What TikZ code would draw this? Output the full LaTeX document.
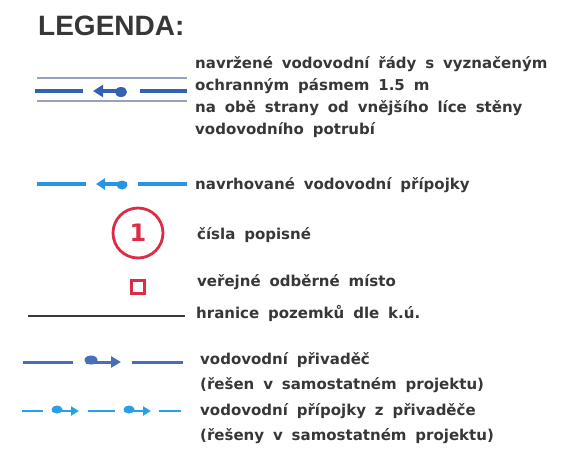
\documentclass[tikz,border=0pt]{standalone}
\usepackage{fontspec}
\setmainfont{DejaVu Sans}[WordSpace=1.7]
\newfontfamily\headfont{Liberation Sans}
\usepackage{xcolor}
\usetikzlibrary{arrows.meta}
\definecolor{textgray}{RGB}{55, 55, 55}
\definecolor{pipeblue}{RGB}{52, 98, 178}
\definecolor{zonegray}{RGB}{150, 162, 186}
\definecolor{connblue}{RGB}{38, 150, 226}
\definecolor{feedblue}{RGB}{72, 110, 182}
\definecolor{feedconn}{RGB}{40, 160, 232}
\definecolor{markred}{RGB}{220, 45, 70}

\begin{document}
\begin{tikzpicture}[x=1pt, y=-1pt, font=\bfseries\fontsize{15}{22}\selectfont, text=textgray,
  label/.style={anchor=west, align=left, inner sep=0pt},
  pipe/.style={line width=4.5pt, color=pipeblue},
  zone/.style={line width=1.6pt, color=zonegray},
  conn/.style={line width=3.8pt, color=connblue},
  feed/.style={line width=3pt, color=feedblue},
  feedpart/.style={line width=2.8pt, color=feedconn}]

  \useasboundingbox (0,0) rectangle (572,461);

  % --- Titulek ---
  \node[anchor=west, inner sep=0pt, font=\headfont\bfseries\fontsize{28}{30}\selectfont] (title) at (38,26) {LEGENDA:};

  % --- Navržené vodovodní řády s ochranným pásmem ---
  \draw[zone] (37,78) -- (187,78);
  \draw[zone] (37,101) -- (187,101);
  \draw[pipe] (35,91) -- (83,91);
  \draw[pipe] (140,91) -- (187,91);
  \draw[pipe, -{Triangle[length=10pt, width=12pt]}] (126,91) -- (93,91);
  \fill[pipeblue] (121,92) ellipse (6 and 5);
  \node[label, execute at begin node=\setlength{\baselineskip}{22pt}] (pipetext) at (195,97)
    {navržené vodovodní řády s vyznačeným\\ochranným pásmem 1.5 m\\na obě strany od vnějšího líce stěny\\vodovodního potrubí};

  % --- Navrhované přípojky ---
  \draw[conn] (37,184) -- (86,184);
  \draw[conn] (138,184) -- (187,184);
  \draw[conn, -{Triangle[length=9pt, width=11pt]}] (127,184) -- (96,184);
  \fill[connblue] (122,185) ellipse (5.5 and 4.5);
  \node[label] (conntext) at (195,185) {navrhované vodovodní přípojky};

  % --- Čísla popisná ---
  \node[circle, draw=markred, line width=2.8pt, minimum size=50pt, inner sep=0pt,
    text=markred, font=\bfseries\fontsize{24}{26}\selectfont] (house) at (138,233) {1};
  \node[label] (housetext) at (197,235) {čísla popisné};

  % --- Veřejné odběrné místo ---
  \node[draw=markred, line width=2.8pt, minimum size=13pt, inner sep=0pt] (tap) at (138,287) {};
  \node[label] (taptext) at (197,282) {veřejné odběrné místo};

  % --- Hranice pozemků ---
  \draw[line width=2pt, color=textgray] (28,316) -- (185,316);
  \node[label] (bordertext) at (196,313) {hranice pozemků dle k.ú.};

  % --- Přivaděč (samostatný projekt) ---
  \draw[feed] (23,362) -- (73,362);
  \draw[feed] (132,362) -- (183,362);
  \draw[feed, -{Triangle[length=10pt, width=11pt]}] (86,362) -- (121,362);
  \fill[feedblue] (91,360) ellipse (6.5 and 4.5);

  % --- Přípojky z přivaděče ---
  \draw[feedpart] (22,411) -- (43,411);
  \draw[feedpart] (88,411) -- (115,411);
  \draw[feedpart] (159,411) -- (181,411);
  \foreach \x in {52,124} {
    \draw[feedpart, -{Triangle[length=8pt, width=9pt]}] (\x,411) -- (\x+27,411);
    \fill[feedconn] (\x+5,409.5) ellipse (5.5 and 4);
  }
  \node[label, execute at begin node=\setlength{\baselineskip}{25.5pt}] (feedtext) at (200,398)
    {vodovodní přivaděč\\(řešen v samostatném projektu)\\vodovodní přípojky z přivaděče\\(řešeny v samostatném projektu)};

\end{tikzpicture}
\end{document}
